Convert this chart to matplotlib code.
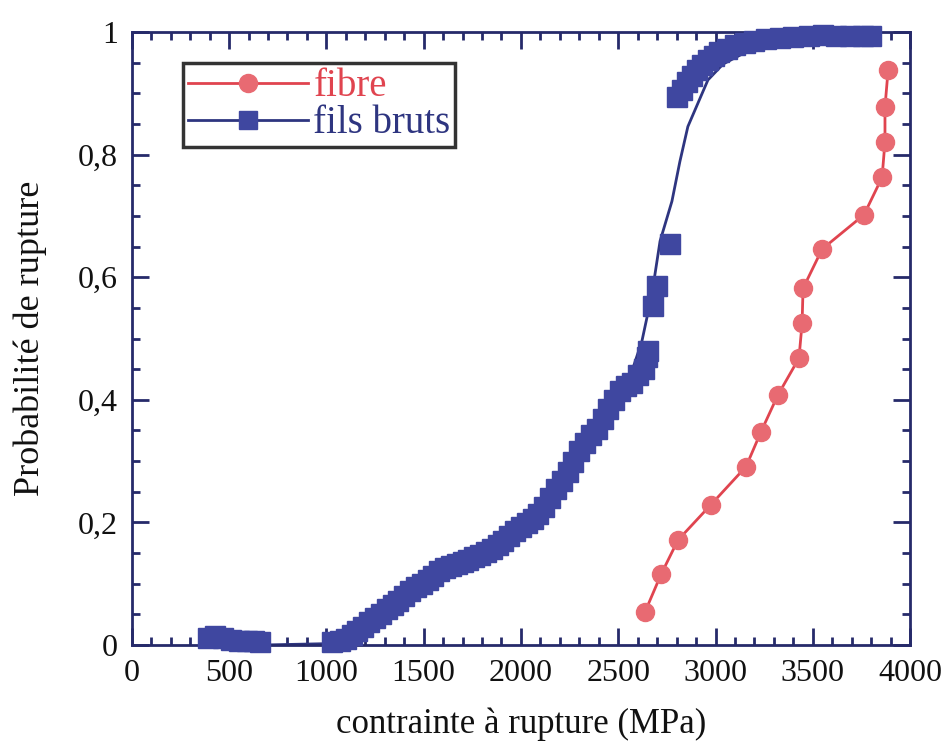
import numpy as np
import matplotlib
matplotlib.use("Agg")
import matplotlib.pyplot as plt
from matplotlib.lines import Line2D
from matplotlib.ticker import MultipleLocator, FuncFormatter

# ---- data ----
fibre_x = [2638, 2720, 2807, 2977, 3157, 3234, 3321, 3429, 3445, 3450,
           3548, 3763, 3856, 3871, 3871, 3887]
fibre_y = [0.054, 0.115, 0.171, 0.229, 0.291, 0.348, 0.408, 0.468, 0.525, 0.582,
           0.646, 0.702, 0.763, 0.821, 0.878, 0.938]

fils_x = [390, 430, 470, 510, 550, 590, 630, 660,
          1030, 1070, 1100, 1130, 1160, 1190, 1220, 1250, 1280, 1310,
          1340, 1370, 1400, 1430, 1460, 1490, 1520, 1550, 1580, 1610,
          1640, 1670, 1700, 1730, 1760, 1790, 1820, 1850, 1880, 1910,
          1940, 1970, 2000, 2030, 2060, 2090, 2120, 2150, 2180, 2210,
          2240, 2270, 2300, 2330, 2360, 2390, 2420, 2450, 2480, 2510,
          2540, 2570, 2600, 2630, 2650, 2655, 2680, 2700, 2765,
          2800, 2830, 2855, 2880, 2905, 2930, 2960, 2990, 3020, 3060,
          3100, 3150, 3200, 3260, 3330, 3400, 3480, 3550, 3620, 3690,
          3760, 3800]
fils_y = [0.012, 0.014, 0.012, 0.008, 0.006, 0.006, 0.006, 0.005,
          0.004, 0.006, 0.010, 0.016, 0.022, 0.030, 0.037, 0.044, 0.051, 0.058,
          0.065, 0.072, 0.080, 0.088, 0.094, 0.100, 0.106, 0.113, 0.120, 0.125,
          0.129, 0.132, 0.135, 0.139, 0.143, 0.147, 0.152, 0.157, 0.163, 0.170,
          0.178, 0.186, 0.193, 0.199, 0.206, 0.214, 0.225, 0.240, 0.255, 0.268,
          0.282, 0.298, 0.316, 0.330, 0.342, 0.352, 0.368, 0.385, 0.400, 0.415,
          0.422, 0.428, 0.440, 0.450, 0.470, 0.480, 0.553, 0.585, 0.654,
          0.895, 0.905, 0.918, 0.928, 0.938, 0.946, 0.954, 0.961, 0.967, 0.973,
          0.979, 0.983, 0.986, 0.989, 0.991, 0.992, 0.994, 0.995, 0.994, 0.993,
          0.993, 0.993]

# smooth curve drawn through the fils bruts data
fit_x = [700, 1000, 1100, 1200, 1300, 1400, 1500, 1600, 1700, 1800, 1900,
         2000, 2100, 2200, 2300, 2400, 2500, 2576, 2622, 2673, 2715, 2776,
         2817, 2858, 2961, 3039, 3177, 3347, 3500, 3700]
fit_y = [0.0, 0.002, 0.010, 0.030, 0.052, 0.080, 0.103, 0.123, 0.135, 0.150, 0.168,
         0.193, 0.218, 0.258, 0.312, 0.355, 0.405, 0.452, 0.496, 0.572, 0.659, 0.724,
         0.789, 0.846, 0.922, 0.948, 0.971, 0.982, 0.990, 0.995]

red = "#e0444f"
red_face = "#e86a72"
blue = "#2e3580"
blue_face = "#3f47a0"
axis_col = "#262a6a"


def ylab(v, pos):
    v = round(v, 2)
    if v == 0 or v == 1:
        return "%d" % v
    return ("%.1f" % v).replace(".", ",")


plt.rcParams['font.family'] = ['Liberation Serif', 'DejaVu Serif']

fig = plt.figure(figsize=(9.48, 7.49), dpi=100)
ax = fig.add_axes([0.139, 0.139, 0.821, 0.818])

ax.plot(fit_x, fit_y, color=blue, lw=2, zorder=2)
ax.plot(fils_x, fils_y, ls="none", marker="s", ms=14, mfc=blue_face, mec=blue_face,
        clip_on=False, zorder=3)
ax.plot(fibre_x, fibre_y, color=red, lw=2, marker="o", ms=13, mfc=red_face,
        mec=red_face, clip_on=False, zorder=4)

ax.set_xlim(0, 4000)
ax.set_ylim(0, 1)
ax.xaxis.set_major_locator(MultipleLocator(500))
ax.xaxis.set_minor_locator(MultipleLocator(100))
ax.yaxis.set_major_locator(MultipleLocator(0.2))
ax.yaxis.set_minor_locator(MultipleLocator(0.05))
ax.yaxis.set_major_formatter(FuncFormatter(ylab))

ax.tick_params(which="both", direction="in", top=True, right=True, color=axis_col,
               width=2, labelsize=23, labelcolor="#111111")
ax.tick_params(which="major", length=12, pad=10)
ax.tick_params(which="minor", length=6)
for s in ax.spines.values():
    s.set_color(axis_col)
    s.set_linewidth(2)

ax.set_xlabel("contrainte à rupture (MPa)", fontsize=25, labelpad=14, color="#111111")
ax.set_ylabel("Probabilité de rupture", fontsize=26, labelpad=22, color="#111111")

# legend: line + marker handles, coloured labels
handles = [Line2D([], [], color=red, lw=2, marker="o", ms=13, mfc=red_face, mec=red_face),
           Line2D([], [], color=blue, lw=2, marker="s", ms=13, mfc=blue_face, mec=blue_face)]
leg = ax.legend(handles, ["fibre", "fils bruts"], loc="upper left",
                bbox_to_anchor=(0.066, 0.949), fontsize=28, frameon=True, fancybox=False,
                handlelength=3.1, handletextpad=0.13, borderpad=0.12, labelspacing=0.0,
                borderaxespad=0)
leg.get_frame().set_edgecolor("black")
leg.get_frame().set_linewidth(2.5)
leg.texts[0].set_color(red)
leg.texts[1].set_color(blue)

fig.savefig("out.png", dpi=100)
